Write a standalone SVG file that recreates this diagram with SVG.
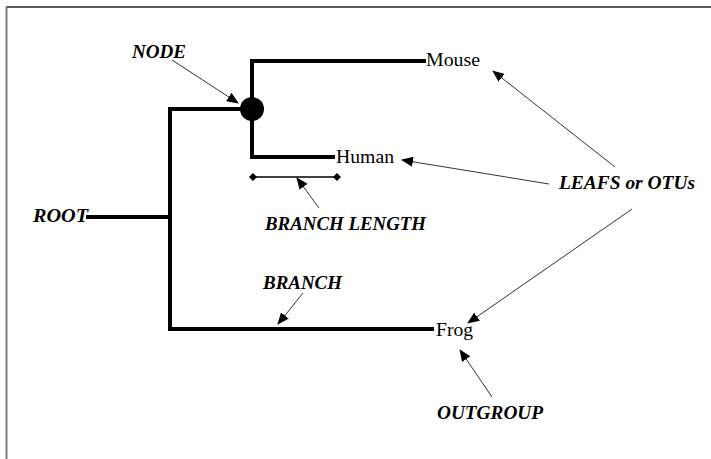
<svg xmlns="http://www.w3.org/2000/svg" width="711" height="459" viewBox="0 0 711 459">
<defs>
<style>
.tree{stroke:#000;stroke-width:4;fill:none;stroke-linecap:square}
.arr{stroke:#333;stroke-width:1;fill:none;marker-end:url(#ah)}
text{font-family:'Liberation Serif','Times New Roman',Times,serif}
.lbl{font-weight:bold;font-style:italic;font-size:19px;fill:#000}
.leaf{font-size:18px;fill:#000}
</style>
<marker id="ah" markerUnits="userSpaceOnUse" markerWidth="12" markerHeight="10" refX="11" refY="5" orient="auto">
<path d="M0,0 L12,5 L0,10 Z" fill="#000"/>
</marker>
<marker id="dia" markerUnits="userSpaceOnUse" markerWidth="8" markerHeight="8" refX="4" refY="4" orient="auto">
<path d="M0,4 L4,0 L8,4 L4,8 Z" fill="#000"/>
</marker>
</defs>
<rect width="711" height="459" fill="#fff"/>
<g id="frame">
<line x1="6" y1="7" x2="711" y2="7" stroke="#222" stroke-width="1.5"/>
<line x1="6.5" y1="7" x2="6.5" y2="459" stroke="#808080" stroke-width="2"/>
</g>
<g id="connectors">
<path class="tree" d="M88,217 H170"/>
<path class="tree" d="M252,109 H170 V329 H432"/>
<path class="tree" d="M424,61 H252 V157 H333"/>
<line x1="253" y1="177" x2="337" y2="177" stroke="#000" stroke-width="1.5" marker-start="url(#dia)" marker-end="url(#dia)"/>
<line class="arr" x1="172" y1="60" x2="238" y2="103"/>
<line class="arr" x1="319" y1="208" x2="297" y2="178"/>
<line class="arr" x1="303" y1="293" x2="278" y2="324"/>
<line class="arr" x1="615" y1="167" x2="493" y2="71"/>
<line class="arr" x1="549" y1="184" x2="402" y2="160"/>
<line class="arr" x1="632" y1="209" x2="468" y2="323"/>
<line class="arr" x1="492" y1="397" x2="460" y2="350"/>
</g>
<g id="node"><circle cx="252" cy="109" r="12" fill="#000"/><text class="lbl" x="132" y="58" textLength="54" lengthAdjust="spacingAndGlyphs">NODE</text></g>
<g id="root"><text class="lbl" x="33" y="222" textLength="55" lengthAdjust="spacingAndGlyphs">ROOT</text></g>
<g id="mouse"><text class="leaf" x="426" y="66" textLength="54" lengthAdjust="spacingAndGlyphs">Mouse</text></g>
<g id="human"><text class="leaf" x="336" y="163" textLength="58" lengthAdjust="spacingAndGlyphs">Human</text></g>
<g id="frog"><text class="leaf" x="436" y="336" textLength="37" lengthAdjust="spacingAndGlyphs">Frog</text></g>
<g id="branch-length"><text class="lbl" x="265" y="230" textLength="161" lengthAdjust="spacingAndGlyphs">BRANCH LENGTH</text></g>
<g id="branch"><text class="lbl" x="263" y="289" textLength="79" lengthAdjust="spacingAndGlyphs">BRANCH</text></g>
<g id="leafs"><text class="lbl" x="559" y="189" textLength="136" lengthAdjust="spacingAndGlyphs">LEAFS or OTUs</text></g>
<g id="outgroup"><text class="lbl" x="437" y="419" textLength="106" lengthAdjust="spacingAndGlyphs">OUTGROUP</text></g>
</svg>
